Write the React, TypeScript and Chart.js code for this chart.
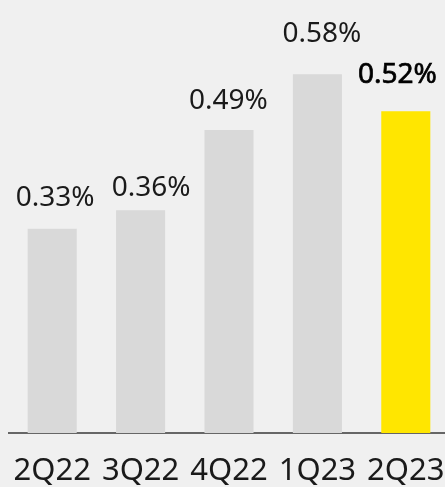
import React, { useEffect, useRef } from "react";
import { Chart, registerables } from "chart.js";

Chart.register(...registerables);

const categories = ["2Q22", "3Q22", "4Q22", "1Q23", "2Q23"];
const values = [0.33, 0.36, 0.49, 0.58, 0.52];
const valueLabels = ["0.33%", "0.36%", "0.49%", "0.58%", "0.52%"];

// label styling offsets (px)
const labelDx = [3, 10.5, -0.7, 4.5, -8.5];
const labelGap = [23, 14, 21, 32, 28];

const barColors = ["#d9d9d9", "#d9d9d9", "#d9d9d9", "#d9d9d9", "#ffe600"];
const FONT = "'Noto Sans', 'DejaVu Sans', sans-serif";

const valueLabelPlugin = {
  id: "valueLabels",
  afterDatasetsDraw(chart: any) {
    const ctx = chart.ctx;
    const meta = chart.getDatasetMeta(0);
    ctx.save();
    ctx.textAlign = "center";
    ctx.textBaseline = "alphabetic";
    meta.data.forEach((bar: any, i: number) => {
      const last = i === valueLabels.length - 1;
      ctx.font = "400 28px " + FONT;
      ctx.fillStyle = last ? "#000000" : "#1a1a1a";
      const x = bar.x + labelDx[i];
      const y = bar.y - labelGap[i];
      ctx.fillText(valueLabels[i], x, y);
      if (last) {
        ctx.strokeStyle = "#000000";
        ctx.lineWidth = 0.7;
        ctx.strokeText(valueLabels[i], x, y);
      }
    });
    ctx.restore();
  },
};

export default function App() {
  const ref = useRef<HTMLCanvasElement | null>(null);

  useEffect(() => {
    if (!ref.current) return;
    const chart = new Chart(ref.current, {
      type: "bar",
      data: {
        labels: categories,
        datasets: [
          {
            data: values,
            backgroundColor: barColors,
            borderWidth: 0,
            categoryPercentage: 1,
            barPercentage: 0.555,
          },
        ],
      },
      options: {
        animation: false,
        responsive: true,
        maintainAspectRatio: false,
        layout: { padding: 0 },
        plugins: {
          legend: { display: false },
          tooltip: { enabled: false },
        },
        scales: {
          x: {
            grid: { display: false, drawTicks: false, tickLength: 0 },
            border: { display: true, color: "#666666", width: 2 },
            ticks: {
              padding: 20,
              color: "#1a1a1a",
              font: { family: FONT, size: 31, lineHeight: 1.2 },
              maxRotation: 0,
              minRotation: 0,
              autoSkip: false,
            },
            afterFit: (scale: any) => {
              scale.height = 54;
              scale.paddingLeft = 0;
              scale.paddingRight = 0;
            },
          },
          y: {
            display: false,
            min: 0,
            max: 0.7,
          },
        },
      },
      plugins: [valueLabelPlugin],
    });
    return () => chart.destroy();
  }, []);

  return (
    <div
      style={{
        position: "fixed",
        left: 0,
        top: 0,
        width: 445,
        height: 487,
        overflow: "hidden",
        background: "#f0f0f0",
      }}
    >
      <div style={{ position: "absolute", left: 8, top: 0, width: 442, height: 487 }}>
        <canvas ref={ref} />
      </div>
    </div>
  );
}
